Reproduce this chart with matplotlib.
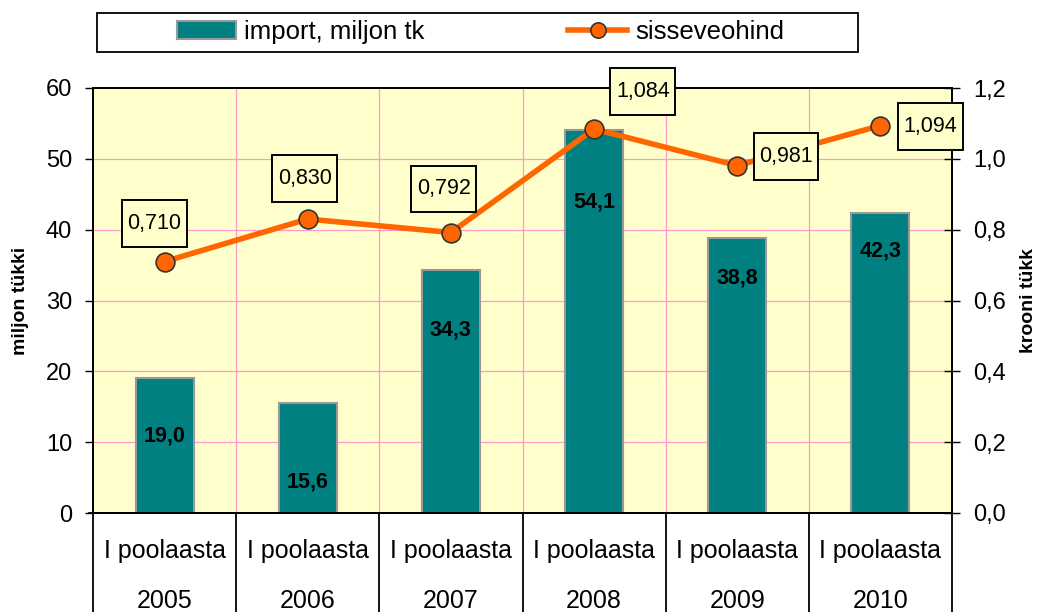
import matplotlib
matplotlib.use("Agg")
import matplotlib.pyplot as plt
from matplotlib.lines import Line2D
from matplotlib.patches import Patch, Rectangle
from matplotlib.path import Path

plt.rcParams['font.family'] = ['Liberation Sans', 'DejaVu Sans']

years = ['2005', '2006', '2007', '2008', '2009', '2010']
period = 'I poolaasta'
imports = [19.0, 15.6, 34.3, 54.1, 38.8, 42.3]
price = [0.710, 0.830, 0.792, 1.084, 0.981, 1.094]

# label placement (style only)
bar_label_y = [10.9, 4.4, 25.8, 43.9, 33.2, 37.0]
price_label_dx = [-0.07, -0.02, -0.05, 0.34, 0.34, 0.35]
price_label_dy = [0.107, 0.114, 0.123, 0.106, 0.025, -0.003]

TEAL = '#008080'
ORANGE = '#FF6600'
BG = '#FFFFCC'


def fmt(v, d):
    return f"{v:.{d}f}".replace('.', ',')


def label_box(x0, y0, width, height, mutation_size):
    px = 0.26 * mutation_size
    py = 0.60 * mutation_size
    x0, y0 = x0 - px, y0 - py
    x1, y1 = x0 + width + 2 * px, y0 + height + 2 * py
    return Path([(x0, y0), (x1, y0), (x1, y1), (x0, y1), (x0, y0)],
                [Path.MOVETO, Path.LINETO, Path.LINETO, Path.LINETO, Path.CLOSEPOLY])


fig = plt.figure(figsize=(10.38, 6.12), dpi=100)
ax = fig.add_axes([93/1038, 1-513/612, (952-93)/1038, (513-88)/612])
ax.set_facecolor(BG)
ax2 = ax.twinx()

x = list(range(len(years)))
ax.bar(x, imports, width=0.405, color=TEAL, edgecolor='#999999', linewidth=1.5, zorder=2)
ax.set_xlim(-0.5, len(years) - 0.5)
ax.set_ylim(0, 60)
ax.set_yticks(range(0, 61, 10))
ax.set_yticklabels([str(v) for v in range(0, 61, 10)], fontsize=17)
ax.set_xticks([])
for yv in range(10, 60, 10):
    ax.axhline(yv, color='#FF99CC', lw=0.9, zorder=1)
for xv in range(len(years) - 1):
    ax.axvline(xv + 0.5, color='#FF99CC', lw=0.9, zorder=1)

for xi, v, ly in zip(x, imports, bar_label_y):
    ax.text(xi, ly, fmt(v, 1), ha='center', va='center', fontsize=15.5, fontweight='bold',
            color='black', zorder=5)

ax2.plot(x, price, color=ORANGE, lw=4, marker='o', markersize=13.5,
         markerfacecolor=ORANGE, markeredgecolor='#333333', markeredgewidth=1.2,
         zorder=4, clip_on=False)
ax2.set_ylim(0, 1.2)
ax2.set_yticks([i * 0.2 for i in range(7)])
ax2.set_yticklabels([fmt(i * 0.2, 1) for i in range(7)], fontsize=17)

for xi, v, dx, dy in zip(x, price, price_label_dx, price_label_dy):
    ax2.text(xi + dx, v + dy, fmt(v, 3), ha='center', va='center', fontsize=15.5, zorder=6,
             bbox=dict(boxstyle=label_box, facecolor=BG, edgecolor='black', linewidth=1.4),
             clip_on=False)

for a in (ax, ax2):
    for s in a.spines.values():
        s.set_color('black')
        s.set_linewidth(1.3)
ax.tick_params(axis='y', length=6, width=1, color='black', pad=9)
ax2.tick_params(axis='y', direction='inout', length=12, width=1, color='black', pad=9)

ax.set_ylabel('miljon tükki', fontsize=14, fontweight='bold', labelpad=12)
ax2.set_ylabel('krooni tükk', fontsize=14, fontweight='bold', labelpad=10)

# category axis: two-level labels with separators
trans = ax.get_xaxis_transform()
for xv in range(len(years) + 1):
    ax.plot([xv - 0.5, xv - 0.5], [0, -0.24], transform=trans, color='black', lw=1.3, clip_on=False)
ax.plot([-0.53, len(years) - 0.5], [0, 0], transform=trans, color='black', lw=1.3, clip_on=False)
for xi, yr in zip(x, years):
    ax.text(xi, -0.09, period, transform=trans, ha='center', va='center', fontsize=18)
    ax.text(xi, -0.208, yr, transform=trans, ha='center', va='center', fontsize=18)

# legend: box plus frameless legend
fig.patches.append(Rectangle((97/1038, 1-52/612), (858-97)/1038, 39/612,
                             transform=fig.transFigure, facecolor='white',
                             edgecolor='black', linewidth=1.3, zorder=0))
handles = [Patch(facecolor=TEAL, edgecolor='#999999', linewidth=1.5),
           Line2D([0], [0], color=ORANGE, lw=4, marker='o', markersize=11,
                  markerfacecolor=ORANGE, markeredgecolor='#333333', markeredgewidth=1.2)]
leg = fig.legend(handles, ['import, miljon tk', 'sisseveohind'], loc='center left',
                 bbox_to_anchor=(177/1038, 1-32/612), ncol=2, fontsize=18.5, frameon=False,
                 handlelength=2.3, handleheight=0.65, handletextpad=0.3, columnspacing=5.6,
                 borderpad=0, borderaxespad=0)

fig.savefig('out.png', dpi=100)
